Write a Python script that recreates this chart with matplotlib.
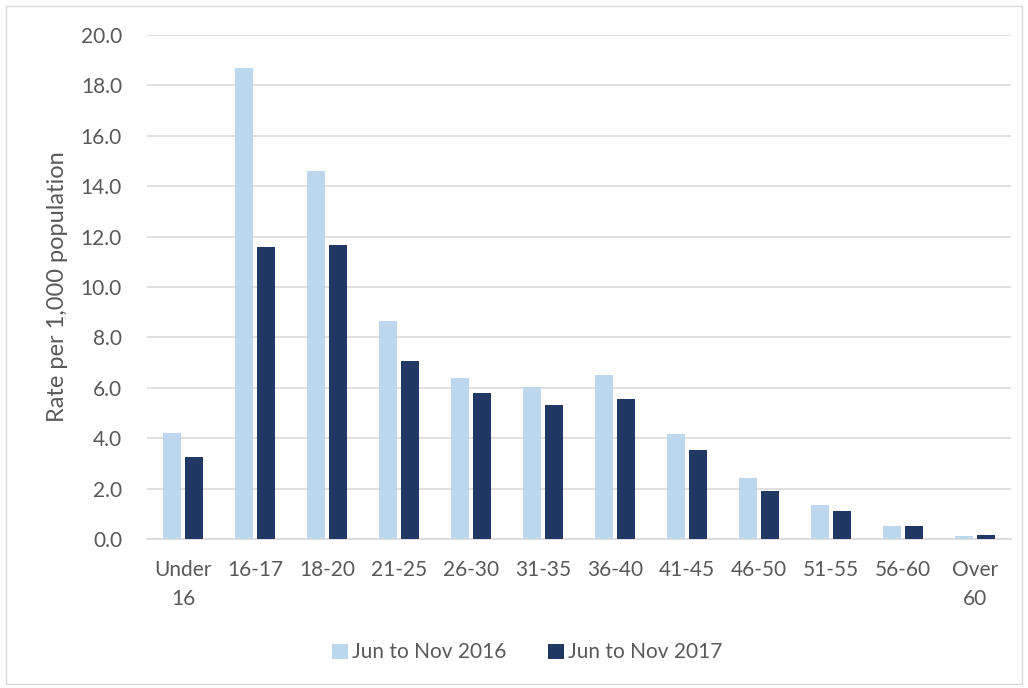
import matplotlib
matplotlib.use("Agg")
import matplotlib.pyplot as plt
import numpy as np
from matplotlib.patches import Rectangle

categories = ["Under\n16", "16-17", "18-20", "21-25", "26-30", "31-35",
              "36-40", "41-45", "46-50", "51-55", "56-60", "Over\n60"]
rate_2016 = [4.2, 18.7, 14.6, 8.65, 6.4, 6.05, 6.5, 4.15, 2.42, 1.33, 0.52, 0.1]
rate_2017 = [3.25, 11.6, 11.65, 7.05, 5.8, 5.3, 5.55, 3.55, 1.9, 1.13, 0.52, 0.15]
series_names = ["Jun to Nov 2016", "Jun to Nov 2017"]
yticks = np.arange(0, 20.1, 2.0)

plt.rcParams["font.family"] = ["Lato", "DejaVu Sans"]
text_color = "#595959"
light = "#bdd7ee"
dark = "#203864"

fig = plt.figure(figsize=(10.28, 6.88), dpi=100)
fig.patches.append(Rectangle((0.006, 0.006), 0.988, 0.986, transform=fig.transFigure,
                             fill=False, edgecolor="#d9d9d9", linewidth=1.0))
ax = fig.add_axes([147 / 1028, 1 - 539 / 688, (1011 - 147) / 1028, (539 - 35) / 688])

x = np.arange(len(categories))
w = 0.25
gap = 0.045
ax.bar(x - (w + gap) / 2, rate_2016, width=w, color=light, label=series_names[0], zorder=3)
ax.bar(x + (w + gap) / 2, rate_2017, width=w, color=dark, label=series_names[1], zorder=3)

ax.set_xlim(-0.5, len(categories) - 0.5)
ax.set_ylim(0, 20)
ax.set_yticks(yticks)
ax.set_yticklabels([f"{v:.1f}" for v in yticks])
ax.set_xticks(x)
ax.set_xticklabels(categories, linespacing=1.6)
ax.grid(axis="y", color="#d9d9d9", linewidth=1.2, zorder=0)
for s in ["top", "right", "left"]:
    ax.spines[s].set_visible(False)
ax.spines["bottom"].set_color("#d9d9d9")
ax.spines["bottom"].set_linewidth(1.2)
ax.tick_params(axis="both", length=0, labelsize=15, colors=text_color)
ax.tick_params(axis="x", pad=15)
ax.tick_params(axis="y", pad=18)
ax.set_ylabel("Rate per 1,000 population", fontsize=17, color=text_color, labelpad=9)

ax.legend(loc="center", bbox_to_anchor=(0.44, -0.225), ncol=2, frameon=False,
          fontsize=15, labelcolor=text_color, handlelength=0.75, handleheight=0.75,
          handletextpad=0.2, columnspacing=2.0)

fig.savefig("out.png", dpi=100, facecolor="white")
